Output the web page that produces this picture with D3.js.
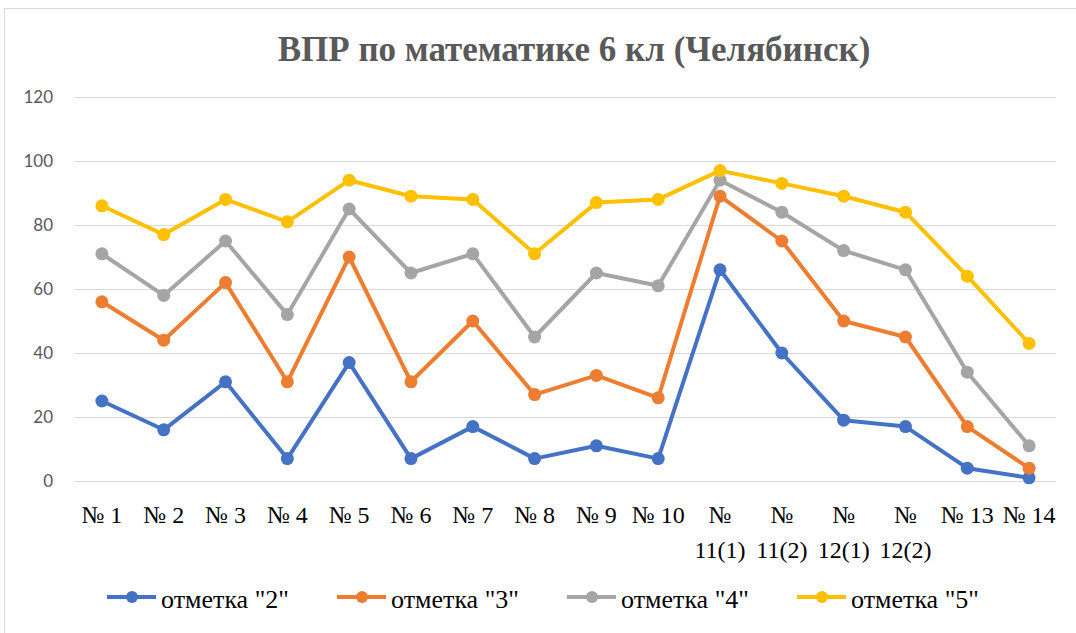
<!DOCTYPE html>
<html>
<head>
<meta charset="utf-8">
<script src="https://cdn.jsdelivr.net/npm/d3@7"></script>
<style>
  html, body { margin: 0; padding: 0; background: #fff; }
  svg { display: block; }
  .tick text { font-family: Lato, "Liberation Sans", sans-serif; font-size: 17px; fill: #595959; }
  .xlab { font-family: "Liberation Serif", "Times New Roman", serif; font-size: 24px; fill: #000; }
  .legend text { font-family: "Liberation Serif", "Times New Roman", serif; font-size: 26px; fill: #000; }
</style>
</head>
<body>
<svg id="chart" width="1076" height="633"></svg>
<script>
// ВПР по математике 6 кл — доли по заданиям, накопительно по отметкам
const categories = ["№ 1", "№ 2", "№ 3", "№ 4", "№ 5", "№ 6", "№ 7", "№ 8", "№ 9", "№ 10",
  "№ 11(1)", "№ 11(2)", "№ 12(1)", "№ 12(2)", "№ 13", "№ 14"];
// wrapped labels like Excel does for the narrow slots
const labelLines = [["№ 1"], ["№ 2"], ["№ 3"], ["№ 4"], ["№ 5"], ["№ 6"], ["№ 7"], ["№ 8"], ["№ 9"], ["№ 10"],
  ["№", "11(1)"], ["№", "11(2)"], ["№", "12(1)"], ["№", "12(2)"], ["№ 13"], ["№ 14"]];

const mark2 = [25, 16, 31, 7, 37, 7, 17, 7, 11, 7, 66, 40, 19, 17, 4, 1];
const mark3 = [56, 44, 62, 31, 70, 31, 50, 27, 33, 26, 89, 75, 50, 45, 17, 4];
const mark4 = [71, 58, 75, 52, 85, 65, 71, 45, 65, 61, 94, 84, 72, 66, 34, 11];
const mark5 = [86, 77, 88, 81, 94, 89, 88, 71, 87, 88, 97, 93, 89, 84, 64, 43];

const seriesNames = ['отметка "2"', 'отметка "3"', 'отметка "4"', 'отметка "5"'];
const seriesColors = ["#4472C4", "#ED7D31", "#A5A5A5", "#FFC000"];
const yTicks = [0, 20, 40, 60, 80, 100, 120];

const series = [mark2, mark3, mark4, mark5].map((vals, i) => ({
  name: seriesNames[i], color: seriesColors[i], values: vals
}));

const W = 1076, H = 633;
const plot = { left: 71, right: 1060, top: 97, bottom: 481 };

const svg = d3.select("#chart");

// chart frame (right/bottom edges run off the picture)
svg.append("rect")
  .attr("x", 4.5).attr("y", 8.5)
  .attr("width", W + 10).attr("height", H + 10)
  .attr("fill", "#fff").attr("stroke", "#d9d9d9");

svg.append("text")
  .attr("x", 574).attr("y", 61)
  .attr("text-anchor", "middle")
  .style("font-family", '"Liberation Serif", "Times New Roman", serif')
  .style("font-size", "35px").style("font-weight", "bold")
  .style("fill", "#595959")
  .text("ВПР по математике 6 кл (Челябинск)");

const x = d3.scaleBand().domain(categories).range([plot.left, plot.right]);
const y = d3.scaleLinear().domain([0, 120]).range([plot.bottom, plot.top]);
const cx = c => x(c) + x.bandwidth() / 2;

// gridlines + y labels
const yAxis = svg.append("g")
  .attr("transform", `translate(${plot.left + 4},0)`)
  .call(d3.axisLeft(y).tickValues(yTicks).tickSize(-(plot.right - plot.left - 8)).tickPadding(22));
yAxis.select(".domain").remove();
yAxis.selectAll(".tick line").attr("stroke", "#d9d9d9").attr("stroke-width", 1);

// x labels
const xl = svg.append("g");
categories.forEach((c, i) => {
  const t = xl.append("text").attr("class", "xlab")
    .attr("x", cx(c)).attr("y", 523).attr("text-anchor", "middle");
  labelLines[i].forEach((ln, j) => {
    t.append("tspan").attr("x", cx(c)).attr("dy", j === 0 ? 0 : 35).text(ln);
  });
});

const line = d3.line()
  .x((d, i) => cx(categories[i]))
  .y(d => y(d));

const sg = svg.append("g").selectAll("g").data(series).enter().append("g");
sg.append("path")
  .attr("d", d => line(d.values))
  .attr("fill", "none")
  .attr("stroke", d => d.color)
  .attr("stroke-width", 4)
  .attr("stroke-linejoin", "round");
sg.each(function(s) {
  d3.select(this).selectAll("circle").data(s.values).enter().append("circle")
    .attr("cx", (d, i) => cx(categories[i]))
    .attr("cy", d => y(d))
    .attr("r", 6.5)
    .attr("fill", s.color);
});

// legend: fixed-width slots like Excel
const lg = svg.append("g").attr("class", "legend");
const slotW = 230;
series.forEach((s, i) => {
  const g = lg.append("g").attr("transform", `translate(${107 + i * slotW},597)`);
  g.append("line").attr("x1", 0).attr("x2", 49).attr("y1", 0).attr("y2", 0)
    .attr("stroke", s.color).attr("stroke-width", 4);
  g.append("circle").attr("cx", 25).attr("cy", 0).attr("r", 6).attr("fill", s.color);
  g.append("text").attr("x", 54).attr("y", 11).text(s.name);
});
</script>
</body>
</html>
